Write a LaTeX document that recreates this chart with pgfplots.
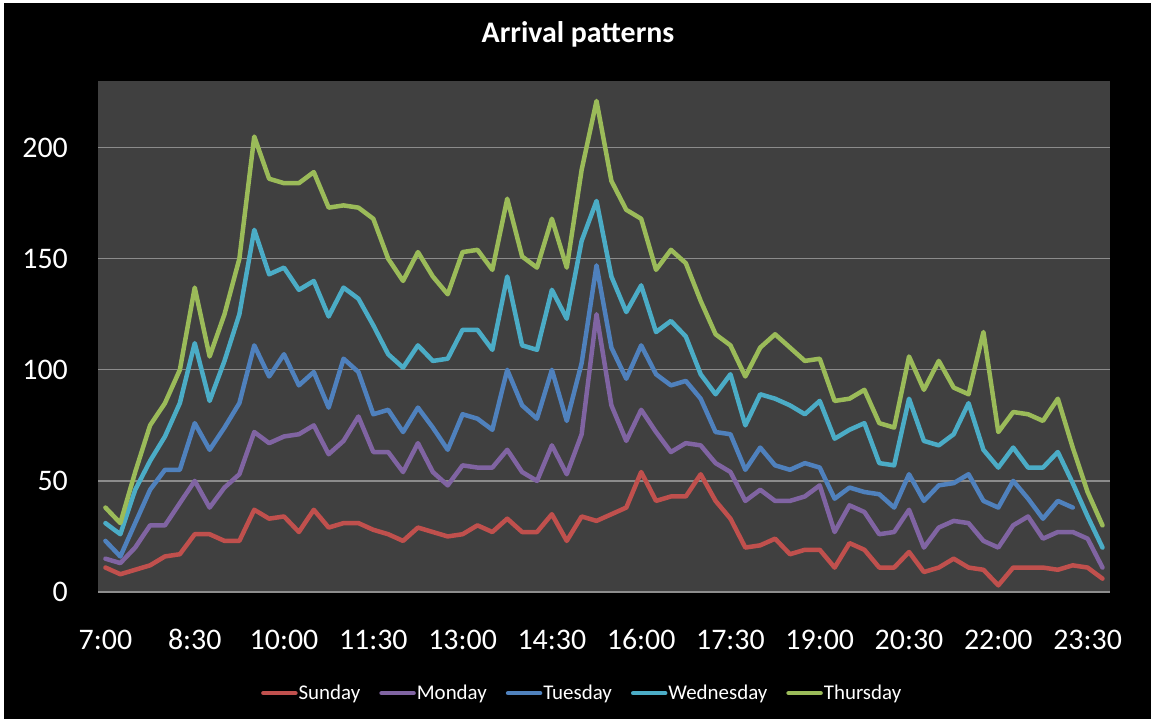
\documentclass[border=0pt]{standalone}
\usepackage{fontspec}
\setmainfont{Carlito}
\usepackage{pgfplots}
\usepackage{pgfplotstable}
\pgfplotsset{compat=1.18}
\definecolor{plotbg}{HTML}{404040}
\definecolor{gridc}{HTML}{8C8C8C}
\definecolor{csun}{HTML}{C0504D}
\definecolor{cmon}{HTML}{8064A2}
\definecolor{ctue}{HTML}{4F81BD}
\definecolor{cwed}{HTML}{4BACC6}
\definecolor{cthu}{HTML}{9BBB59}
\pgfplotstableread{
i sun mon tue wed thu
0 11 15 23 31 38
1 8 13 16 26 31
2 10 20 31 46 54
3 12 30 46 59 75
4 16 30 55 70 85
5 17 40 55 85 100
6 26 50 76 112 137
7 26 38 64 86 106
8 23 47 74 104 125
9 23 53 85 125 150
10 37 72 111 163 205
11 33 67 97 143 186
12 34 70 107 146 184
13 27 71 93 136 184
14 37 75 99 140 189
15 29 62 83 124 173
16 31 68 105 137 174
17 31 79 99 132 173
18 28 63 80 120 168
19 26 63 82 107 150
20 23 54 72 101 140
21 29 67 83 111 153
22 27 54 74 104 142
23 25 48 64 105 134
24 26 57 80 118 153
25 30 56 78 118 154
26 27 56 73 109 145
27 33 64 100 142 177
28 27 54 84 111 151
29 27 50 78 109 146
30 35 66 100 136 168
31 23 53 77 123 146
32 34 71 103 158 190
33 32 125 147 176 221
34 35 84 110 142 185
35 38 68 96 126 172
36 54 82 111 138 168
37 41 72 98 117 145
38 43 63 93 122 154
39 43 67 95 115 148
40 53 66 87 98 131
41 41 58 72 89 116
42 33 54 71 98 111
43 20 41 55 75 97
44 21 46 65 89 110
45 24 41 57 87 116
46 17 41 55 84 110
47 19 43 58 80 104
48 19 48 56 86 105
49 11 27 42 69 86
50 22 39 47 73 87
51 19 36 45 76 91
52 11 26 44 58 76
53 11 27 38 57 74
54 18 37 53 87 106
55 9 20 41 68 91
56 11 29 48 66 104
57 15 32 49 71 92
58 11 31 53 85 89
59 10 23 41 64 117
60 3 20 38 56 72
61 11 30 50 65 81
62 11 34 42 56 80
63 11 24 33 56 77
64 10 27 41 63 87
65 12 27 38 49 65
66 11 24 nan 34 45
67 6 11 nan 20 30
}\arrivals
\begin{document}
\begin{tikzpicture}[x=1bp,y=1bp]
\fill[white] (0,0) rectangle (1151,719);
\fill[black] (4,0) rectangle (1151,716);
\useasboundingbox (0,0) rectangle (1151,719);
\node[text=white, anchor=base, inner sep=0pt, font=\bfseries\fontsize{30}{36}\selectfont] at (578,676) {Arrival patterns};
\begin{axis}[
  at={(98bp,127bp)}, anchor=south west,
  scale only axis, width=1012bp, height=511bp,
  xmin=-0.5, xmax=67.5, ymin=0, ymax=230,
  axis background/.style={fill=plotbg},
  axis line style={draw=none},
  major tick length=0pt,
  ytick={0,50,100,150,200},
  xtick={0,6,...,66},
  xticklabels={7:00,8:30,10:00,11:30,13:00,14:30,16:00,17:30,19:00,20:30,22:00,23:30},
  ymajorgrids,
  grid style={draw=gridc, line width=1.2bp},
  /pgf/number format/assume math mode=true,
  yticklabel style={anchor=east, inner sep=0pt, xshift=-30bp, text=white, font=\fontsize{30}{36}\selectfont},
  xticklabel style={anchor=base, inner sep=0pt, yshift=-58bp, text=white, font=\fontsize{30}{36}\selectfont},
  unbounded coords=jump,
  every axis plot/.append style={line width=4.5bp, line join=round, line cap=round},
  legend columns=-1,
  legend style={draw=none, fill=none, text=white, at={(0.478,-0.198)}, anchor=center,
    font=\fontsize{21}{25}\selectfont, nodes={inner sep=1bp},
    /tikz/every even column/.append style={column sep=18bp}},
  legend image code/.code={\draw[#1, line width=4.5bp, line cap=round] (0bp,0bp) -- (32bp,0bp);},
]
\addplot[csun] table[x=i, y=sun] {\arrivals};
\addlegendentry{Sunday}
\addplot[cmon] table[x=i, y=mon] {\arrivals};
\addlegendentry{Monday}
\addplot[ctue] table[x=i, y=tue] {\arrivals};
\addlegendentry{Tuesday}
\addplot[cwed] table[x=i, y=wed] {\arrivals};
\addlegendentry{Wednesday}
\addplot[cthu] table[x=i, y=thu] {\arrivals};
\addlegendentry{Thursday}
\end{axis}
\end{tikzpicture}
\end{document}
